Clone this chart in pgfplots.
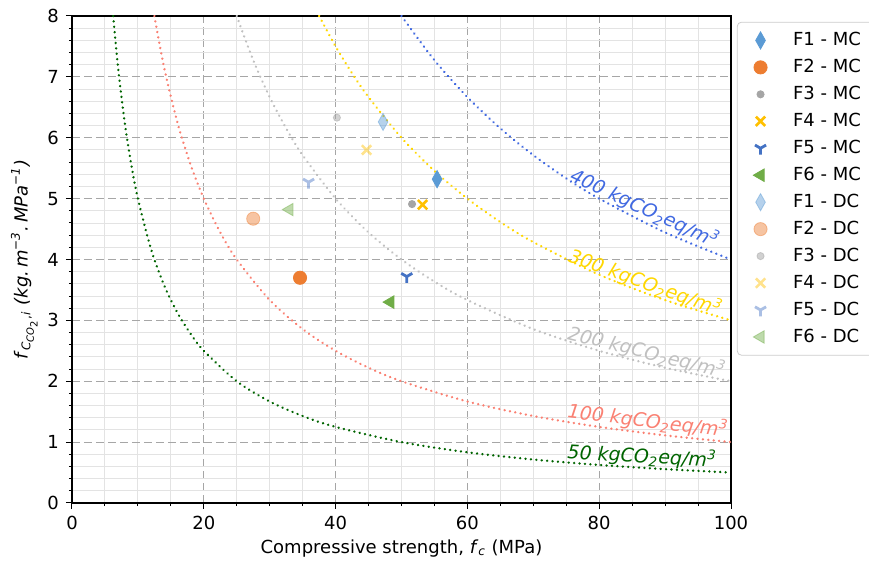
\documentclass[border=0pt]{standalone}
\usepackage{fontspec}
\setmainfont{DejaVu Sans}
\usepackage{pgfplots}
\pgfplotsset{compat=1.18}
\begin{document}
\begin{tikzpicture}
\definecolor{cF1}{HTML}{5B9BD5}
\definecolor{cF2}{HTML}{ED7D31}
\definecolor{cF3}{HTML}{A5A5A5}
\definecolor{cF4}{HTML}{FFC000}
\definecolor{cF5}{HTML}{4472C4}
\definecolor{cF6}{HTML}{70AD47}
\definecolor{c400}{HTML}{4169E1}
\definecolor{c300}{HTML}{FFD700}
\definecolor{c200}{HTML}{C0C0C0}
\definecolor{c100}{HTML}{FA8072}
\definecolor{c50}{HTML}{006400}
\newcommand{\fs}{\fontsize{9}{10.8}\selectfont}
\begin{axis}[
  width=329.5pt, height=243.5pt, scale only axis,
  xmin=0, xmax=100, ymin=0, ymax=8,
  xtick={0,20,...,100}, ytick={0,1,...,8},
  minor x tick num=3, minor y tick num=4,
  grid=both,
  major grid style={gray!70, line width=0.5pt, dash pattern=on 4pt off 2pt},
  minor grid style={gray!22, line width=0.45pt},
  axis line style={line width=0.7pt},
  tick align=outside, tick pos=left,
  major tick length=3pt, minor tick length=1.6pt,
  every tick/.style={black, line width=0.5pt},
  /pgf/number format/assume math mode=true,
  tick label style={font=\fs},
  label style={font=\fs},
  xlabel={Compressive strength, \textit{f}\textsubscript{\textit{c}} (MPa)},
  ylabel={\textit{f}\textsubscript{\textit{C}\textsubscript{\textit{CO}\textsubscript{2}},\textit{i}} \textit{(kg.\,m\textsuperscript{−3}.\,MPa\textsuperscript{−1})}},
  xlabel style={yshift=2pt},
  ylabel style={yshift=-2pt},
  legend style={font=\fs, at={(1.009,0.988)}, anchor=north west, draw=gray!40, rounded corners=2pt, row sep=1.3pt, inner xsep=8pt, inner ysep=3pt, cells={anchor=west},
    /tikz/every odd column/.append style={column sep=11pt}},
  legend cell align=left,
  clip=true,
]
\coordinate (BL) at (rel axis cs:0,0);
\coordinate (TR) at (rel axis cs:1,1);
% data points
\addplot[only marks, mark=diamond*, mark size=4.3pt, color=cF1, mark options={xscale=0.75}] coordinates {(55.4,5.32)};
\addlegendentry{F1 - MC}
\addplot[only marks, mark=*, mark size=3.3pt, color=cF2] coordinates {(34.6,3.70)};
\addlegendentry{F2 - MC}
\addplot[only marks, mark=*, mark size=1.8pt, color=cF3] coordinates {(51.6,4.91)};
\addlegendentry{F3 - MC}
\addplot[only marks, mark=x, mark size=3.3pt, color=cF4, mark options={line width=1.3pt}] coordinates {(53.2,4.90)};
\addlegendentry{F4 - MC}
\addplot[only marks, mark=Mercedes star flipped, mark size=3.2pt, color=cF5, mark options={line width=1.4pt}] coordinates {(50.8,3.72)};
\addlegendentry{F5 - MC}
\addplot[only marks, mark=triangle*, mark size=3.6pt, color=cF6, mark options={rotate=90}] coordinates {(48.3,3.30)};
\addlegendentry{F6 - MC}
\addplot[only marks, mark=diamond*, mark size=4.3pt, color=cF1, opacity=0.45, mark options={xscale=0.75}] coordinates {(47.2,6.26)};
\addlegendentry{F1 - DC}
\addplot[only marks, mark=*, mark size=3.3pt, color=cF2, opacity=0.45] coordinates {(27.5,4.67)};
\addlegendentry{F2 - DC}
\addplot[only marks, mark=*, mark size=1.8pt, color=cF3, opacity=0.5] coordinates {(40.2,6.33)};
\addlegendentry{F3 - DC}
\addplot[only marks, mark=x, mark size=3.3pt, color=cF4, opacity=0.45, mark options={line width=1.3pt}] coordinates {(44.7,5.80)};
\addlegendentry{F4 - DC}
\addplot[only marks, mark=Mercedes star flipped, mark size=3.2pt, color=cF5, opacity=0.45, mark options={line width=1.4pt}] coordinates {(35.9,5.27)};
\addlegendentry{F5 - DC}
\addplot[only marks, mark=triangle*, mark size=3.6pt, color=cF6, opacity=0.45, mark options={rotate=90}] coordinates {(33.0,4.82)};
\addlegendentry{F6 - DC}
% iso lines
\pgfplotsset{iso/.style={smooth, no marks, line width=1.3pt, line cap=round, dash pattern=on 0.01pt off 2.7pt, forget plot}}
\addplot[iso, color=c50] coordinates {(6.25,8) (7,7.143) (8,6.25) (9,5.556) (10,5) (12,4.167) (14,3.571) (16,3.125) (18,2.778) (20,2.5) (25,2) (30,1.667) (35,1.429) (40,1.25) (50,1) (60,0.833) (70,0.714) (80,0.625) (90,0.556) (100,0.5)};
\addplot[iso, color=c100] coordinates {(12.5,8) (14,7.143) (16,6.25) (18,5.556) (20,5) (22.5,4.444) (25,4) (30,3.333) (35,2.857) (40,2.5) (45,2.222) (50,2) (60,1.667) (70,1.429) (80,1.25) (90,1.111) (100,1)};
\addplot[iso, color=c200] coordinates {(25,8) (27.5,7.273) (30,6.667) (32.5,6.154) (35,5.714) (40,5) (45,4.444) (50,4) (55,3.636) (60,3.333) (70,2.857) (80,2.5) (90,2.222) (100,2)};
\addplot[iso, color=c300] coordinates {(37.5,8) (40,7.5) (42.5,7.059) (45,6.667) (50,6) (55,5.455) (60,5) (65,4.615) (70,4.286) (80,3.75) (90,3.333) (100,3)};
\addplot[iso, color=c400] coordinates {(50,8) (55,7.273) (60,6.667) (65,6.154) (70,5.714) (75,5.333) (80,5) (90,4.444) (100,4)};
% labels
\node[font=\fontsize{9.5}{11}\selectfont\itshape, color=c400, rotate=-25] at (axis cs:86.9,4.84) {400 kgCO\textsubscript{2}eq/m\textsuperscript{3}};
\node[font=\fontsize{9.5}{11}\selectfont\itshape, color=c300, rotate=-20] at (axis cs:87,3.62) {300 kgCO\textsubscript{2}eq/m\textsuperscript{3}};
\node[font=\fontsize{9.5}{11}\selectfont\itshape, color=c200, rotate=-14] at (axis cs:87.2,2.48) {200 kgCO\textsubscript{2}eq/m\textsuperscript{3}};
\node[font=\fontsize{9.5}{11}\selectfont\itshape, color=c100, rotate=-7] at (axis cs:87.4,1.35) {100 kgCO\textsubscript{2}eq/m\textsuperscript{3}};
\node[font=\fontsize{9.5}{11}\selectfont\itshape, color=c50, rotate=-3.5] at (axis cs:86.5,0.77) {50 kgCO\textsubscript{2}eq/m\textsuperscript{3}};
\end{axis}
\pgfresetboundingbox
\path[use as bounding box] ([shift={(-36pt,-31pt)}]BL) rectangle ([shift={(69pt,8pt)}]TR);
\end{tikzpicture}
\end{document}
